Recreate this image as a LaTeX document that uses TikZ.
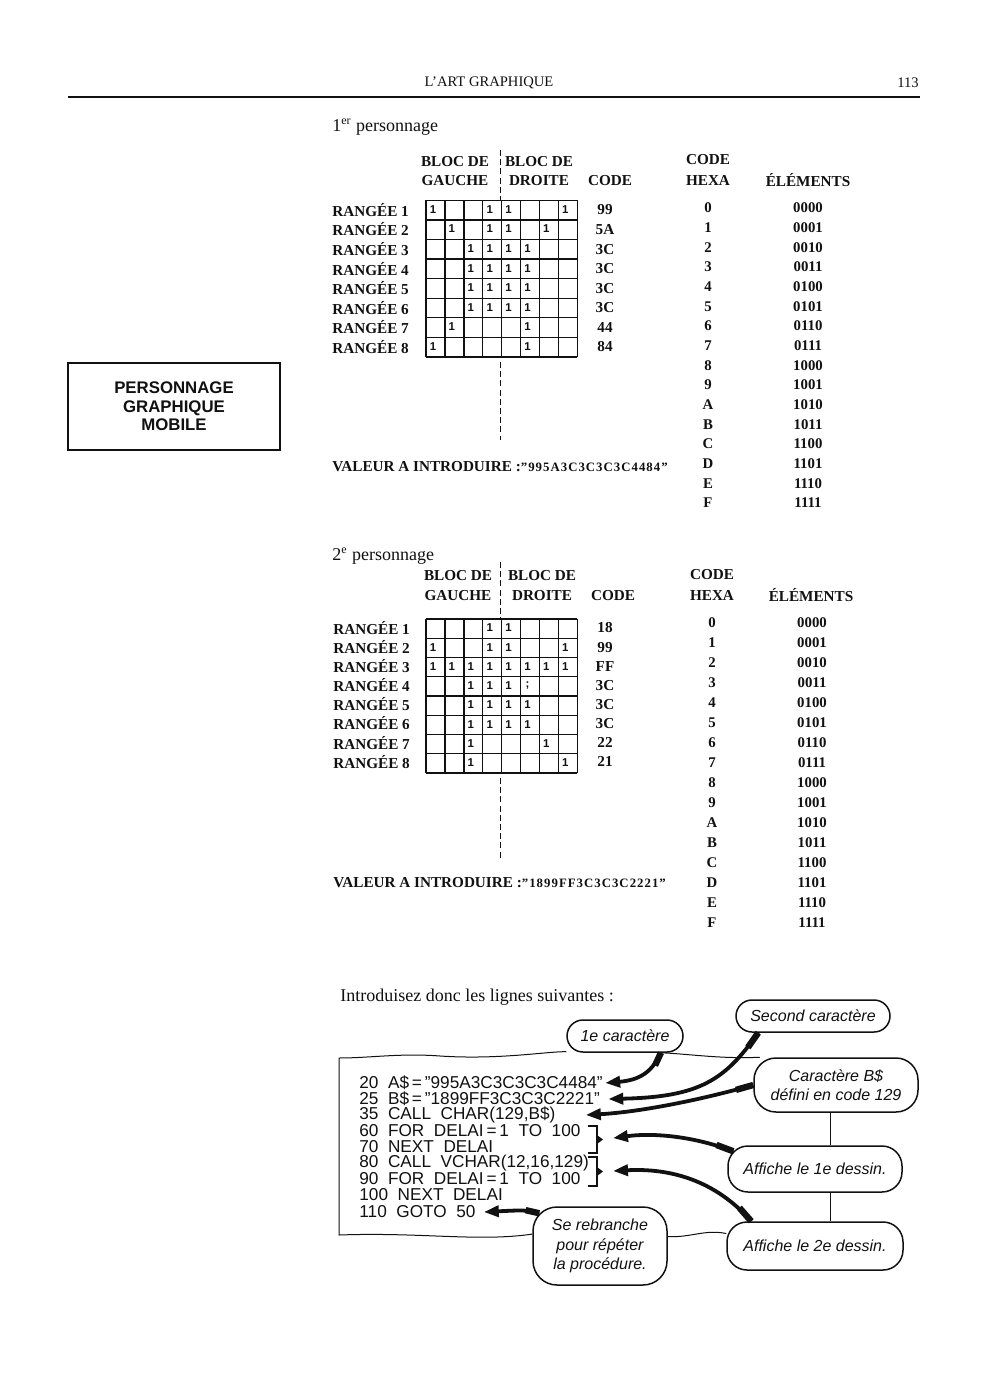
\documentclass[tikz,border=0pt]{standalone}
\usepackage{fontspec}
\setmainfont{Liberation Serif}
\setsansfont{Liberation Sans}
\newfontfamily\valfont[LetterSpace=8]{Liberation Serif}
\usetikzlibrary{arrows.meta,positioning,calc}
\definecolor{ink}{HTML}{111111}
\tikzset{lbl/.style={inner sep=0pt,text=ink,font=\bfseries\fontsize{7.6}{9}\selectfont},
rowlbl/.style={lbl,anchor=west},
hexd/.style={inner sep=0pt,text=ink,font=\bfseries\fontsize{7.4}{9}\selectfont},
txt/.style={inner sep=0pt,anchor=west,text=ink,font=\fontsize{9}{11}\selectfont},
bit/.style={inner sep=0pt,text=ink,font=\sffamily\bfseries\fontsize{5.7}{6}\selectfont},
gridln/.style={draw=ink,line width=0.7pt},
midline/.style={draw=ink,line width=0.7pt,dash pattern=on 3pt off 1.6pt},
listing/.style={inner sep=0pt,anchor=west,text=ink,font=\sffamily\fontsize{8.6}{9}\selectfont},
bubble/.style={rectangle,rounded corners=8pt,draw=ink,line width=0.75pt,fill=white,align=center,inner sep=0pt,text=ink,font=\sffamily\itshape\fontsize{8}{9.8}\selectfont},
pointer/.style={-{Triangle[length=7.5pt,width=5.5pt]},line width=1.9pt,draw=ink},
stub/.style={draw=ink,line width=3.2pt},
rim/.style={draw=ink,line width=0.5pt}}
\begin{document}
\begin{tikzpicture}[x=0.5pt,y=-0.5pt]
\fill[white] (0,0) rectangle (993,1400);
\node[inner sep=0pt,text=ink,font=\fontsize{7.3}{9}\selectfont] (run) at (489,83) {L'ART GRAPHIQUE};
\node[inner sep=0pt,text=ink,font=\fontsize{7.3}{9}\selectfont] (folio) at (908,83) {113};
\draw[ink,line width=1pt] (68,97) -- (920,97);
\node[draw=ink,line width=0.75pt,minimum width=106pt,minimum height=43.5pt,align=center,text=ink,font=\sffamily\bfseries\fontsize{8.4}{9.3}\selectfont] (pgm) at (174,406.5) {PERSONNAGE\\GRAPHIQUE\\MOBILE};

\node[txt] (p1) at (332,127) {1\textsuperscript{er} personnage};
\node[lbl] (ga1) at (455,162) {BLOC DE};
\node[lbl] (gb1) at (455,181) {GAUCHE};
\node[lbl] (da1) at (539,162) {BLOC DE};
\node[lbl] (db1) at (539,181) {DROITE};
\node[lbl] (cd1) at (610,181) {CODE};
\node[lbl] (hx1) at (708,160) {CODE};
\node[lbl] (hy1) at (708,180) {HEXA};
\node[lbl] (el1) at (808,180) {ÉLÉMENTS};

\node[txt] (p2) at (332,556) {2\textsuperscript{e} personnage};
\node[lbl] (ga2) at (458,576) {BLOC DE};
\node[lbl] (gb2) at (458,596) {GAUCHE};
\node[lbl] (da2) at (542,576) {BLOC DE};
\node[lbl] (db2) at (542,596) {DROITE};
\node[lbl] (cd2) at (613,596) {CODE};
\node[lbl] (hx2) at (712,575) {CODE};
\node[lbl] (hy2) at (712,595) {HEXA};
\node[lbl] (el2) at (811,595) {ÉLÉMENTS};

\foreach \t/\h in {200.5/19.55,619/19.25}{
  \foreach \i in {0,...,8} \draw[gridln] ({426+18.9*\i},\t) -- ++(0,8*\h);
  \foreach \j in {0,...,8} \draw[gridln] (426,{\t+\h*\j}) -- ++(151.2,0);}
\foreach \r/\cols in {1/{1,4,5,8},2/{2,4,5,7},3/{3,4,5,6},4/{3,4,5,6},5/{3,4,5,6},6/{3,4,5,6},7/{2,6},8/{1,6}}
  \foreach \c in \cols \node[bit] at ({426+18.9*(\c-1)+7},{200.5+19.55*(\r-1)+9}) {1};
\foreach \r/\cols in {1/{4,5},2/{1,4,5,8},3/{1,2,3,4,5,6,7,8},4/{3,4,5},5/{3,4,5,6},6/{3,4,5,6},7/{3,7},8/{3,8}}
  \foreach \c in \cols \node[bit] at ({426+18.9*(\c-1)+7},{619+19.25*(\r-1)+9}) {1};
\node[bit] (semi) at ({426+18.9*5+7},{619+19.25*3+9}) {;};

\foreach \r/\v in {1/99,2/5A,3/3C,4/3C,5/3C,6/3C,7/44,8/84}{
  \node[rowlbl] (ra\r) at (332,{210+19.55*(\r-1)}) {RANGÉE \r};
  \node[lbl] (ca\r) at (605,{210+19.55*(\r-1)}) {\v};}
\foreach \r/\v in {1/18,2/99,3/FF,4/3C,5/3C,6/3C,7/22,8/21}{
  \node[rowlbl] (rb\r) at (333,{628+19.1*(\r-1)}) {RANGÉE \r};
  \node[lbl] (cb\r) at (605,{628+19.1*(\r-1)}) {\v};}

\foreach \hx/\hy/\hs/\tb in {708/208/19.67/a,712/623/20/b}{
  \foreach \hd/\el [count=\k from 0] in {0/0000,1/0001,2/0010,3/0011,4/0100,5/0101,6/0110,7/0111,8/1000,9/1001,A/1010,B/1011,C/1100,D/1101,E/1110,F/1111}{
    \node[hexd] (h\tb\k) at (\hx,{\hy+\hs*\k}) {\hd};
    \node[hexd] (e\tb\k) at ({\hx+100},{\hy+\hs*\k}) {\el};}}

\draw[midline] (500.5,150) -- (500.5,200.5);
\draw[midline] (500.5,362) -- (500.5,440);
\draw[midline] (500.5,562) -- (500.5,619);
\draw[midline] (500.5,778) -- (500.5,860);

\node[rowlbl] (va) at (332,467) {VALEUR A INTRODUIRE :{\valfont\bfseries\fontsize{6.4}{8}\selectfont ”995A3C3C3C3C4484”}};
\node[rowlbl] (vb) at (333,883) {VALEUR A INTRODUIRE :{\valfont\bfseries\fontsize{6.4}{8}\selectfont ”1899FF3C3C3C2221”}};

\node[txt] (intro) at (340,997) {Introduisez donc les lignes suivantes :};
\node[listing] (l20) at (359,1083) {20\ \ A\$\,=\,”995A3C3C3C3C4484”};
\node[listing] (l25) at (359,1099) {25\ \ B\$\,=\,”1899FF3C3C3C2221”};
\node[listing] (l35) at (359,1115) {35\ \ CALL\ \ CHAR(129,B\$)};
\node[listing] (l60) at (359,1131) {60\ \ FOR\ \ DELAI\,=\,1\ \ TO\ \ 100};
\node[listing] (l70) at (359,1147) {70\ \ NEXT\ \ DELAI};
\node[listing] (l80) at (359,1163) {80\ \ CALL\ \ VCHAR(12,16,129)};
\node[listing] (l90) at (359,1179) {90\ \ FOR\ \ DELAI\,=\,1\ \ TO\ \ 100};
\node[listing] (l100) at (359,1195) {100\ \ NEXT\ \ DELAI};
\node[listing] (l110) at (359,1212) {110\ \ GOTO\ \ 50};

\draw[ink,line width=0.8pt] (588,1126) -- (597,1126) -- (597,1153) -- (588,1153);
\fill[ink] (597,1135) -- (603,1139.5) -- (597,1144) -- cycle;
\coordinate (k1) at (603,1139.5);
\draw[ink,line width=0.8pt] (588,1157) -- (597,1157) -- (597,1186) -- (588,1186);
\fill[ink] (597,1167) -- (603,1171.5) -- (597,1176) -- cycle;
\coordinate (k2) at (603,1171.5);

\node[bubble,minimum width=58pt,minimum height=16pt] (c1) at (625,1036) {1e caractère};
\node[bubble,minimum width=77pt,minimum height=16pt] (sc) at (813,1016) {Second caractère};
\node[bubble,rounded corners=11pt,minimum width=82pt,minimum height=27pt] (cbx) at (836,1085) {Caractère B\$\\défini en code 129};
\node[bubble,rounded corners=10pt,minimum width=87pt,minimum height=23pt] (a1) at (815,1169) {Affiche le 1e dessin.};
\node[bubble,rounded corners=10pt,minimum width=88pt,minimum height=24pt] (a2) at (815,1246) {Affiche le 2e dessin.};
\node[bubble,rounded corners=12pt,minimum width=67pt,minimum height=39pt] (sr) at (600,1246) {Se rebranche\\pour répéter\\la procédure.};

\draw[rim] (c1.195) .. controls (550,1051) and (500,1060) .. (440,1056) .. controls (400,1053) and (370,1058) .. (339,1058) -- (339,1235) .. controls (420,1232) and (480,1242) .. (sr.170);
\draw[rim] (c1.-25) .. controls (690,1054) and (720,1059) .. (cbx.160);
\draw[rim] (sr.8) .. controls (690,1238) and (705,1229) .. (a2.172);
\coordinate (vx) at (830,0);
\draw[rim] (vx |- cbx.south) -- (vx |- a1.north);
\draw[rim] (vx |- a1.south) -- (vx |- a2.north);

\coordinate (s1) at (c1.-25);
\coordinate (s2) at (sc.-163);
\coordinate (s3) at (cbx.west);
\coordinate (s4) at ([shift={(6,6)}]a1.north west);
\coordinate (s5) at ([xshift=12.5pt]a2.north west);
\coordinate (s6) at ([shift={(7,7)}]sr.north west);
\draw[pointer] (s1) .. controls (652,1072) and (640,1080) .. ([xshift=1pt]l20.east);
\draw[pointer] (s2) .. controls (725,1080) and (700,1097) .. ([xshift=4pt]l25.east);
\draw[pointer] (s3) .. controls (700,1100) and (640,1112) .. ([xshift=15pt]l35.east);
\draw[pointer,shorten >=5pt] (s4) .. controls (690,1135) and (650,1133) .. (k1);
\draw[pointer,shorten >=5pt] (s5) .. controls (715,1180) and (670,1168) .. (k2);
\draw[pointer] (s6) .. controls (525,1210) .. ([xshift=4pt]l110.east);
\draw[stub] (s1) -- ($(s1)!7pt!(652,1072)$);
\draw[stub] (s2) -- ($(s2)!9pt!(725,1080)$);
\draw[stub] (s3) -- ($(s3)!9pt!(700,1100)$);
\draw[stub] (s4) -- ($(s4)!9pt!(690,1135)$);
\draw[stub] (s5) -- ($(s5)!9pt!(715,1180)$);
\draw[stub] (s6) -- ($(s6)!7pt!(525,1210)$);
\end{tikzpicture}
\end{document}
